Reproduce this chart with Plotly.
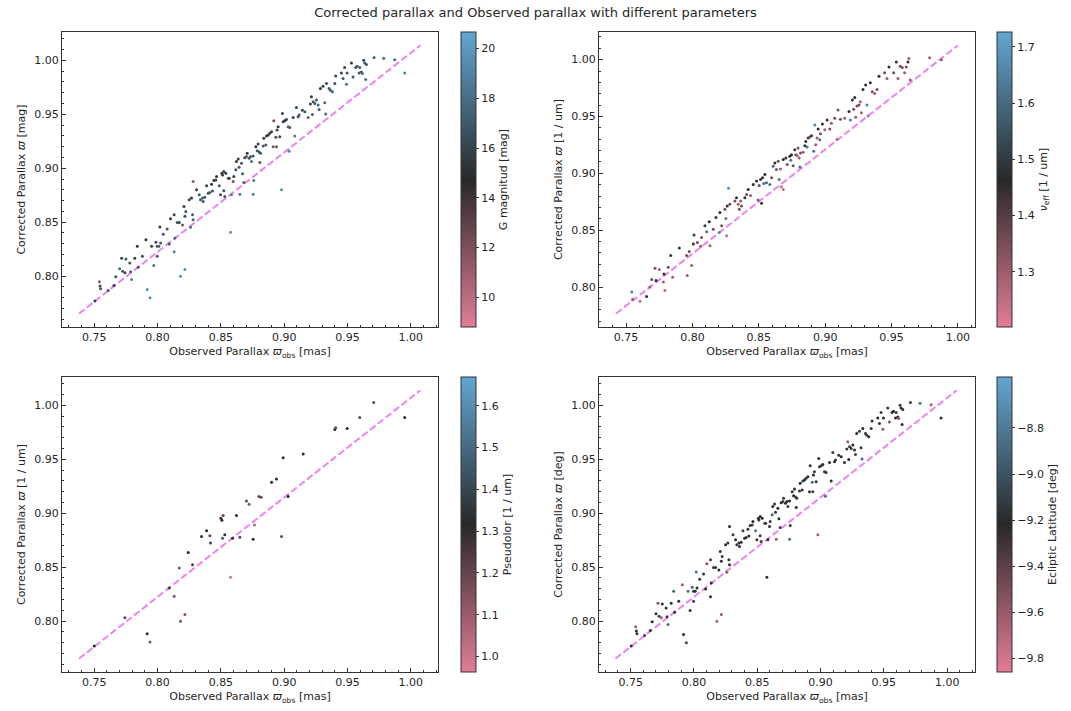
import plotly.graph_objects as go

# ---------------- data ----------------
obs_main = [0.7540, 0.7545, 0.7550, 0.7505, 0.7610, 0.7655, 0.7670, 0.7716, 0.7750, 0.7700,
            0.7724, 0.7742, 0.7780, 0.7787, 0.7795, 0.7820, 0.7847, 0.7880, 0.7840, 0.7908,
            0.7918, 0.7940, 0.7953, 0.7970, 0.7987, 0.7997, 0.8010, 0.7997, 0.8018, 0.8024,
            0.8045, 0.8076, 0.8092, 0.8102, 0.8131, 0.8137, 0.8131, 0.8155, 0.8171, 0.8181,
            0.8216, 0.8197, 0.8208, 0.8216, 0.8223, 0.8250, 0.8260, 0.8268, 0.8276, 0.8281,
            0.8281, 0.8308, 0.8329, 0.8339, 0.8355, 0.8360, 0.8373, 0.8387, 0.8400, 0.8413,
            0.8426, 0.8434, 0.8444, 0.8460, 0.8466, 0.8487, 0.8497, 0.8508, 0.8513, 0.8523,
            0.8523, 0.8539, 0.8531, 0.8558, 0.8566, 0.8584, 0.8576, 0.8597, 0.8602, 0.8618,
            0.8623, 0.8637, 0.8644, 0.8650, 0.8663, 0.8671, 0.8681, 0.8689, 0.8702, 0.8708,
            0.8723, 0.8734, 0.8742, 0.8755, 0.8760, 0.8755, 0.8776, 0.8787, 0.8794, 0.8802,
            0.8808, 0.8813, 0.8834, 0.8839, 0.8855, 0.8860, 0.8873, 0.8886, 0.8900, 0.8913,
            0.8918, 0.8934, 0.8939, 0.8944, 0.8952, 0.8965, 0.8979, 0.8986, 0.8992, 0.9005,
            0.9018, 0.9031, 0.9039, 0.9044, 0.9071, 0.9084, 0.9097, 0.9110, 0.9118, 0.9144,
            0.9163, 0.9189, 0.9207, 0.9215, 0.9223, 0.9229, 0.9242, 0.9255, 0.9268, 0.9276,
            0.9286, 0.9307, 0.9320, 0.9328, 0.9334, 0.9355, 0.9365, 0.9381, 0.9400, 0.9407,
            0.9452, 0.9465, 0.9478, 0.9492, 0.9497, 0.9531, 0.9544, 0.9565, 0.9576, 0.9592,
            0.9597, 0.9610, 0.9618, 0.9628, 0.9636, 0.9644, 0.9650, 0.9710, 0.9786, 0.9873,
            0.9952]
corr_main = [0.7948, 0.7908, 0.7883, 0.7769, 0.7868, 0.7914, 0.7994, 0.8166, 0.8160, 0.8068,
             0.8046, 0.8031, 0.8123, 0.8040, 0.7969, 0.8166, 0.8083, 0.8185, 0.8277, 0.8338,
             0.7877, 0.7800, 0.8277, 0.8098, 0.8314, 0.8277, 0.8277, 0.8185, 0.8455, 0.8308,
             0.8388, 0.8437, 0.8298, 0.8532, 0.8569, 0.8354, 0.8225, 0.8498, 0.8498, 0.8000,
             0.8062, 0.8474, 0.8646, 0.8554, 0.8600, 0.8708, 0.8452, 0.8723, 0.8569, 0.8523,
             0.8877, 0.8800, 0.8754, 0.8708, 0.8723, 0.8692, 0.8732, 0.8837, 0.8769, 0.8775,
             0.8852, 0.8788, 0.8886, 0.8892, 0.8923, 0.8837, 0.8754, 0.8954, 0.8938, 0.8969,
             0.8791, 0.8954, 0.8738, 0.8908, 0.8908, 0.8754, 0.8406, 0.8877, 0.8923, 0.8985,
             0.9062, 0.9086, 0.9009, 0.8760, 0.9046, 0.8948, 0.8868, 0.9098, 0.9108, 0.9138,
             0.9092, 0.9108, 0.9062, 0.9114, 0.8886, 0.8760, 0.9200, 0.9163, 0.9225, 0.9151,
             0.9052, 0.9138, 0.9206, 0.9277, 0.9215, 0.9298, 0.9308, 0.9323, 0.9338, 0.9200,
             0.9440, 0.9286, 0.9200, 0.9354, 0.9385, 0.9292, 0.8800, 0.9508, 0.9431, 0.9440,
             0.9452, 0.9385, 0.9157, 0.9378, 0.9471, 0.9298, 0.9563, 0.9477, 0.9492, 0.9538,
             0.9523, 0.9471, 0.9594, 0.9662, 0.9498, 0.9615, 0.9600, 0.9631, 0.9585, 0.9545,
             0.9738, 0.9760, 0.9606, 0.9502, 0.9785, 0.9738, 0.9723, 0.9708, 0.9785, 0.9855,
             0.9883, 0.9831, 0.9932, 0.9778, 0.9883, 0.9975, 0.9846, 0.9932, 0.9945, 0.9883,
             0.9932, 0.9892, 0.9877, 1.0000, 0.9975, 0.9822, 0.9960, 1.0025, 1.0018, 1.0006,
             0.9883]
g_mag = [11.5, 16.5, 17, 16, 17, 16, 17, 16, 17, 18,
         17, 16, 17, 17.5, 19, 16, 17, 16.5, 15.5, 15.5,
         19.5, 19.5, 16, 18.5, 16.5, 17, 17.5, 17, 15.5, 17,
         17, 17, 17, 15.5, 16, 17.5, 19, 17, 16, 19.5,
         19.5, 12, 16, 16.5, 17, 16, 18, 15.5, 17, 17.5,
         11.5, 16, 17, 17, 17.5, 17, 17, 16, 16.5, 17,
         15.5, 17, 16, 15.5, 15.5, 17, 13, 16, 15.5, 16,
         17, 16, 17, 12, 16, 19, 19.5, 12, 16, 16.5,
         15.5, 16, 17, 18.5, 17, 17, 17.5, 16, 12, 15.5,
         17, 17, 18, 17, 18.5, 19, 15.5, 17, 16, 17,
         12, 17, 17, 16, 17, 16, 15.5, 16, 16, 12,
         12, 17, 17.5, 16, 15.5, 13, 19.5, 16, 16, 15.5,
         16, 18, 19, 17, 16, 18.5, 16, 17, 17, 16.5,
         17, 12, 16, 15.5, 17.5, 17, 17, 17, 17.5, 17,
         15.5, 16, 12, 18, 16, 17, 17, 17.5, 17, 16,
         16, 17, 16, 18, 17, 15.5, 17, 17, 17, 17,
         17.5, 17, 18, 16, 17, 18, 17, 17.5, 18, 18,
         19]
ecl_lat = [-9.6, -9.2, -9.15, -9.25, -9.1, -9.3, -9.2, -9.55, -9.15, -9.25,
           -9.1, -9.6, -9.2, -9.3, -8.85, -9.15, -9.2, -9.25, -8.9, -9.6,
           -9.2, -9.35, -8.85, -9.15, -8.9, -9.2, -9.25, -9.1, -8.85, -9.2,
           -9.3, -9.15, -9.2, -9.55, -9.1, -9.2, -9.25, -9.15, -9.3, -9.65,
           -9.6, -9.2, -9.15, -9.25, -9.1, -9.2, -9.6, -9.3, -9.15, -9.2,
           -9.25, -9.1, -9.2, -9.3, -9.15, -9.2, -9.25, -9.1, -9.2, -9.3,
           -9.15, -9.2, -9.25, -9.1, -9.2, -8.85, -9.3, -9.15, -9.2, -9.25,
           -9.1, -9.2, -9.3, -9.6, -9.15, -9.2, -9.2, -9.25, -9.1, -8.9,
           -9.2, -9.3, -9.15, -9.6, -9.2, -9.25, -9.1, -9.2, -9.3, -9.15,
           -9.2, -9.25, -9.1, -9.2, -9.3, -8.85, -9.15, -9.2, -9.25, -9.1,
           -9.2, -9.3, -9.15, -9.2, -9.25, -9.1, -9.2, -9.3, -9.15, -9.2,
           -9.25, -8.9, -9.1, -9.2, -9.3, -9.15, -9.65, -9.2, -9.25, -9.1,
           -9.2, -9.3, -8.85, -9.15, -9.2, -9.25, -9.1, -9.2, -9.3, -9.15,
           -9.2, -9.25, -9.1, -9.6, -9.2, -9.3, -9.15, -9.2, -9.25, -9.1,
           -9.2, -9.3, -9.15, -8.9, -9.2, -9.25, -9.1, -9.2, -9.3, -9.15,
           -9.2, -9.25, -9.1, -9.6, -9.2, -9.3, -9.55, -9.15, -9.2, -9.25,
           -9.1, -9.2, -9.6, -9.3, -9.15, -9.2, -9.25, -9.1, -8.85, -9.6,
           -9.2]

obs_nu = [0.7543, 0.7550, 0.7605, 0.7655, 0.7680, 0.7693, 0.7718, 0.7726, 0.7751, 0.7781,
          0.7793, 0.7786, 0.7818, 0.7836, 0.7851, 0.7901, 0.7956, 0.7961, 0.7976, 0.7994,
          0.8007, 0.8012, 0.8037, 0.8069, 0.8062, 0.8094, 0.8107, 0.8127, 0.8132, 0.8157,
          0.8177, 0.8202, 0.8207, 0.8220, 0.8245, 0.8252, 0.8257, 0.8262, 0.8272, 0.8282,
          0.8320, 0.8332, 0.8345, 0.8353, 0.8363, 0.8370, 0.8395, 0.8408, 0.8420, 0.8438,
          0.8458, 0.8483, 0.8495, 0.8503, 0.8513, 0.8521, 0.8528, 0.8538, 0.8546, 0.8558,
          0.8583, 0.8596, 0.8608, 0.8621, 0.8633, 0.8646, 0.8653, 0.8663, 0.8670, 0.8684,
          0.8684, 0.8704, 0.8714, 0.8734, 0.8741, 0.8746, 0.8759, 0.8771, 0.8779, 0.8789,
          0.8796, 0.8804, 0.8809, 0.8814, 0.8834, 0.8847, 0.8854, 0.8864, 0.8872, 0.8884,
          0.8897, 0.8914, 0.8922, 0.8929, 0.8939, 0.8947, 0.8959, 0.8964, 0.8979, 0.8997,
          0.9015, 0.9035, 0.9047, 0.9072, 0.9090, 0.9097, 0.9115, 0.9147, 0.9180, 0.9190,
          0.9205, 0.9215, 0.9223, 0.9230, 0.9240, 0.9255, 0.9265, 0.9273, 0.9285, 0.9305,
          0.9315, 0.9323, 0.9340, 0.9355, 0.9373, 0.9391, 0.9406, 0.9448, 0.9466, 0.9481,
          0.9516, 0.9536, 0.9549, 0.9566, 0.9581, 0.9599, 0.9611, 0.9624, 0.9631, 0.9641,
          0.9787, 0.9875]
corr_nu = [0.7956, 0.7892, 0.7875, 0.7918, 0.8000, 0.8067, 0.8166, 0.8058, 0.8154, 0.8044,
           0.7971, 0.8116, 0.8175, 0.8277, 0.8087, 0.8344, 0.8277, 0.8102, 0.8312, 0.8189,
           0.8378, 0.8457, 0.8393, 0.8437, 0.8358, 0.8539, 0.8486, 0.8574, 0.8364, 0.8509,
           0.8611, 0.8480, 0.8655, 0.8539, 0.8684, 0.8603, 0.8451, 0.8713, 0.8868, 0.8728,
           0.8757, 0.8786, 0.8728, 0.8684, 0.8757, 0.8713, 0.8786, 0.8815, 0.8859, 0.8806,
           0.8902, 0.8932, 0.8766, 0.8894, 0.8946, 0.8737, 0.8961, 0.8911, 0.8990, 0.8917,
           0.8902, 0.8961, 0.9063, 0.9092, 0.9033, 0.9106, 0.8946, 0.9039, 0.8882, 0.9121,
           0.8859, 0.9135, 0.9077, 0.9150, 0.9115, 0.9164, 0.9068, 0.9208, 0.9164, 0.9156,
           0.9223, 0.9135, 0.9057, 0.9179, 0.9185, 0.9243, 0.9281, 0.9231, 0.9310, 0.9319,
           0.9330, 0.9194, 0.9426, 0.9252, 0.9310, 0.9389, 0.9295, 0.9348, 0.9435, 0.9383,
           0.9470, 0.9389, 0.9441, 0.9485, 0.9301, 0.9557, 0.9476, 0.9485, 0.9543, 0.9470,
           0.9645, 0.9563, 0.9668, 0.9493, 0.9592, 0.9601, 0.9630, 0.9534, 0.9738, 0.9776,
           0.9601, 0.9505, 0.9796, 0.9718, 0.9703, 0.9738, 0.9854, 0.9884, 0.9834, 0.9936,
           0.9884, 0.9980, 0.9834, 0.9942, 0.9930, 0.9884, 0.9936, 0.9980, 1.0009, 0.9820,
           1.0017, 1.0000]
nu_eff = [1.65, 1.30, 1.25, 1.48, 1.30, 1.35, 1.35, 1.45, 1.30, 1.30,
          1.25, 1.45, 1.35, 1.50, 1.30, 1.50, 1.35, 1.30, 1.35, 1.30,
          1.45, 1.50, 1.35, 1.35, 1.30, 1.50, 1.62, 1.45, 1.30, 1.35,
          1.50, 1.65, 1.45, 1.35, 1.35, 1.30, 1.25, 1.45, 1.68, 1.35,
          1.35, 1.45, 1.30, 1.35, 1.30, 1.35, 1.45, 1.35, 1.45, 1.30,
          1.48, 1.45, 1.60, 1.35, 1.50, 1.45, 1.45, 1.62, 1.48, 1.60,
          1.62, 1.35, 1.60, 1.48, 1.35, 1.35, 1.62, 1.30, 1.25, 1.45,
          1.25, 1.45, 1.35, 1.48, 1.62, 1.45, 1.35, 1.50, 1.35, 1.30,
          1.35, 1.30, 1.62, 1.35, 1.30, 1.45, 1.48, 1.62, 1.45, 1.35,
          1.45, 1.62, 1.65, 1.30, 1.30, 1.45, 1.62, 1.35, 1.45, 1.30,
          1.45, 1.35, 1.30, 1.35, 1.25, 1.35, 1.35, 1.30, 1.45, 1.65,
          1.45, 1.35, 1.48, 1.30, 1.35, 1.35, 1.30, 1.30, 1.45, 1.45,
          1.65, 1.25, 1.45, 1.35, 1.30, 1.35, 1.45, 1.35, 1.30, 1.45,
          1.35, 1.45, 1.30, 1.35, 1.35, 1.30, 1.35, 1.45, 1.30, 1.30,
          1.30, 1.30]

obs_ps = [0.7500, 0.7742, 0.7918, 0.7940, 0.8092, 0.8131, 0.8171, 0.8181, 0.8216, 0.8242,
          0.8276, 0.8347, 0.8387, 0.8413, 0.8418, 0.8500, 0.8508, 0.8518, 0.8513, 0.8531,
          0.8576, 0.8592, 0.8623, 0.8650, 0.8702, 0.8723, 0.8755, 0.8765, 0.8800, 0.8818,
          0.8900, 0.8939, 0.8979, 0.8992, 0.9031, 0.9150, 0.9400, 0.9407, 0.9497, 0.9597,
          0.9707, 0.9952]
corr_ps = [0.7769, 0.8031, 0.7883, 0.7806, 0.8308, 0.8231, 0.8492, 0.8000, 0.8062, 0.8637,
           0.8523, 0.8785, 0.8837, 0.8791, 0.8723, 0.8954, 0.8935, 0.8978, 0.8769, 0.8800,
           0.8406, 0.8769, 0.8978, 0.8778, 0.9114, 0.9083, 0.8760, 0.8892, 0.9154, 0.9148,
           0.9286, 0.9317, 0.8785, 0.9514, 0.9154, 0.9548, 0.9775, 0.9791, 0.9785, 0.9886,
           1.0025, 0.9886]
pseudo = [1.30, 1.20, 1.30, 1.15, 1.25, 1.50, 1.15, 1.15, 1.15, 1.30,
          1.25, 1.30, 1.30, 1.20, 1.40, 1.30, 1.30, 1.20, 1.45, 1.30,
          1.00, 1.30, 1.30, 1.45, 1.20, 1.50, 1.30, 1.05, 1.20, 1.20,
          1.30, 1.30, 1.20, 1.30, 1.30, 1.30, 1.30, 1.20, 1.30, 1.20,
          1.20, 1.30]

line_x_main = [0.738, 1.0075]
line_y_main = [0.7653, 1.0138]
line_x_nu = [0.7425, 1.0000]
line_y_nu = [0.7767, 1.0125]

# colour ranges
g_range = [8.81, 20.66]
nu_range = [1.202, 1.7265]
ps_range = [0.963, 1.669]
lat_range = [-9.858, -8.579]

g_ticks = [10, 12, 14, 16, 18, 20]
nu_ticks = [1.3, 1.4, 1.5, 1.6, 1.7]
ps_ticks = [1.0, 1.1, 1.2, 1.3, 1.4, 1.5, 1.6]
lat_ticks = [-9.8, -9.6, -9.4, -9.2, -9.0, -8.8]
axis_ticks = [0.75, 0.80, 0.85, 0.90, 0.95, 1.00]

# ---------------- layout helpers ----------------
W, H = 1071, 711
FONT = "DejaVu Sans"
TXT = "#262626"
cscale = [[0.0, "#e27d96"], [0.5, "#282828"], [1.0, "#62a7d2"]]


def fx(p):
    return p / W


def fy(p):
    return 1 - p / H


panels = [
    # (x_left, x_right, y_top, y_bottom, xrange, yrange, cbar_x)
    (62, 438, 32, 327, [0.7245, 1.0215], [0.7529, 1.0262], 461),
    (599, 975, 32, 327, [0.7296, 1.0129], [0.7649, 1.0243], 997),
    (62, 438, 377, 672, [0.7245, 1.0215], [0.7529, 1.0262], 461),
    (599, 975, 377, 672, [0.7250, 1.0220], [0.7529, 1.0262], 997),
]
ylabels = ["Corrected Parallax <i>ϖ</i> [mag]",
           "Corrected Parallax <i>ϖ</i> [1 / um]",
           "Corrected Parallax <i>ϖ</i> [1 / um]",
           "Corrected Parallax <i>ϖ</i> [deg]"]
cbtitles = ["G magnitud [mag]", "<i>ν</i><sub>eff</sub> [1 / um]",
            "Pseudolor [1 / um]", "Ecliptic Latitude [deg]"]
cranges = [g_range, nu_range, ps_range, lat_range]
cticks = [g_ticks, nu_ticks, ps_ticks, lat_ticks]
cfmt = ["d", ".1f", ".1f", ".1f"]

series = [
    (obs_main, corr_main, g_mag, line_x_main, line_y_main),
    (obs_nu, corr_nu, nu_eff, line_x_nu, line_y_nu),
    (obs_ps, corr_ps, pseudo, line_x_main, line_y_main),
    (obs_main, corr_main, ecl_lat, line_x_main, line_y_main),
]

fig = go.Figure()
layout = dict(
    width=W, height=H,
    margin=dict(l=0, r=0, t=0, b=0),
    paper_bgcolor="white", plot_bgcolor="white",
    showlegend=False,
    font=dict(family=FONT, size=11, color=TXT),
    title=dict(text="Corrected parallax and Observed parallax with different parameters",
               x=0.5, xanchor="center", y=fy(12), yanchor="middle",
               font=dict(family=FONT, size=13, color=TXT)),
)

for i, (pan, ser) in enumerate(zip(panels, series)):
    k = i + 1
    sfx = "" if k == 1 else str(k)
    xl, xr, yt, yb, xrng, yrng, cbx = pan
    ox, oy, cval, lx, ly = ser
    common = dict(
        showline=True, mirror=True, linecolor="#333333", linewidth=1,
        showgrid=False, zeroline=False,
        ticks="inside", ticklen=4, tickwidth=1, tickcolor="#333333",
        tick0=0.75, dtick=0.05, tickformat=".2f",
        minor=dict(ticks="inside", ticklen=2, tickcolor="#333333", dtick=0.01, tick0=0.75),
        tickfont=dict(family=FONT, size=11, color=TXT),
    )
    layout["xaxis" + sfx] = dict(
        common, domain=[fx(xl), fx(xr)], range=xrng, anchor="y" + sfx,
        title=dict(text="Observed Parallax <i>ϖ</i><sub>obs</sub> [mas]",
                   font=dict(family=FONT, size=11, color=TXT), standoff=4),
    )
    layout["yaxis" + sfx] = dict(
        common, domain=[fy(yb), fy(yt)], range=yrng, anchor="x" + sfx,
        title=dict(text=ylabels[i], font=dict(family=FONT, size=11, color=TXT), standoff=6),
    )
    layout["coloraxis" + sfx] = dict(
        colorscale=cscale, cmin=cranges[i][0], cmax=cranges[i][1],
        colorbar=dict(
            x=fx(cbx), xanchor="left", xpad=0, ypad=0,
            y=fy((yt + yb) / 2), yanchor="middle",
            len=yb - yt, lenmode="pixels", thickness=15, thicknessmode="pixels",
            outlinewidth=1, outlinecolor="#333333",
            ticks="outside", ticklen=3, tickcolor="#333333",
            tickvals=cticks[i], tickformat=cfmt[i],
            tickfont=dict(family=FONT, size=11, color=TXT),
            title=dict(text=cbtitles[i], side="right",
                       font=dict(family=FONT, size=11, color=TXT)),
        ),
    )
    fig.add_trace(go.Scatter(
        x=lx, y=ly, mode="lines", xaxis="x" + sfx, yaxis="y" + sfx,
        line=dict(color="violet", width=2, dash="7px,3px"), hoverinfo="skip",
    ))
    fig.add_trace(go.Scatter(
        x=ox, y=oy, mode="markers", xaxis="x" + sfx, yaxis="y" + sfx,
        marker=dict(size=3, symbol="circle", color=cval, coloraxis="coloraxis" + sfx,
                    line=dict(width=0)),
    ))

fig.update_layout(**layout)
fig.write_html("out.html")
